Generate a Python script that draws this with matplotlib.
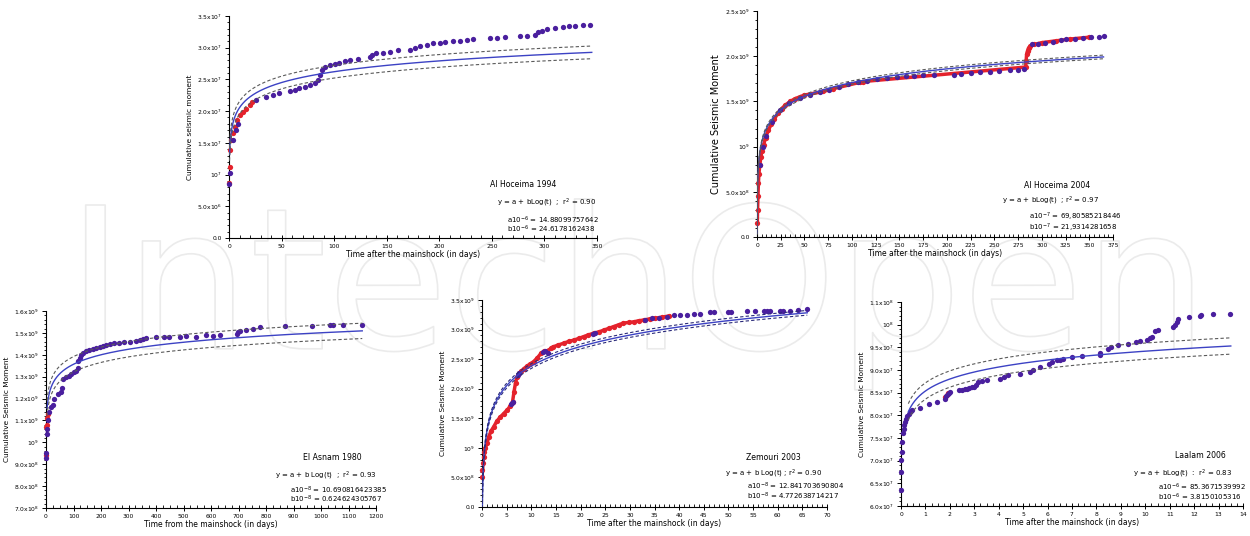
import numpy as np
import matplotlib.pyplot as plt
from matplotlib import patheffects
from matplotlib.ticker import MultipleLocator

# ---- Al Hoceima 1994 (y in 1e7) ----
hoc94_red_t = [0, 0.6, 1.3, 2.2, 3.8, 5.4, 7.6, 10, 13, 16.5, 19.7, 22]
hoc94_red_y = [0.86, 1.12, 1.38, 1.54, 1.65, 1.75, 1.86, 1.94, 1.99, 2.04, 2.09, 2.15]
hoc94_pur_t = [0.3, 0.6, 3.8, 7, 8.6, 26, 35.6, 42, 48, 58, 62.6, 67, 72, 77, 81.6, 85, 86.4, 88,
               91, 96, 100.7, 105, 110, 115, 123, 134, 135.6, 140, 146.7, 153, 161, 172, 177,
               181.6, 188, 194, 200.7, 205.5, 213, 220, 226, 232, 248, 254.7, 262.6, 277, 283,
               291, 294, 297.6, 302, 310, 318, 323, 329, 337, 343.6]
hoc94_pur_y = [0.85, 1.02, 1.54, 1.7, 1.8, 2.17, 2.23, 2.25, 2.28, 2.31, 2.33, 2.36, 2.38, 2.41,
               2.44, 2.49, 2.57, 2.65, 2.7, 2.73, 2.74, 2.76, 2.79, 2.81, 2.82, 2.85, 2.88, 2.91,
               2.92, 2.94, 2.96, 2.97, 2.99, 3.02, 3.04, 3.07, 3.08, 3.09, 3.1, 3.11, 3.12, 3.13,
               3.15, 3.16, 3.17, 3.18, 3.19, 3.2, 3.24, 3.27, 3.29, 3.31, 3.33, 3.34, 3.35, 3.36,
               3.36]

# ---- Al Hoceima 2004 (y in 1e9) ----
hoc04_red_t = [0.3, 0.6, 1, 1.5, 2, 3, 4, 5, 7, 9, 12, 15, 18, 22, 26, 30, 35, 40, 45, 50,
               70, 80, 108, 112, 283, 283.5, 284, 285, 286, 288, 292, 300, 315, 330, 350]
hoc04_red_y = [0.15, 0.3, 0.45, 0.6, 0.7, 0.8, 0.88, 0.95, 1.02, 1.1, 1.18, 1.25, 1.3, 1.37,
               1.42, 1.46, 1.5, 1.53, 1.55, 1.57, 1.61, 1.64, 1.71, 1.72, 1.88, 1.95, 2.02,
               2.06, 2.09, 2.11, 2.13, 2.15, 2.17, 2.19, 2.21]
hoc04_pur_t = [3, 6, 10, 16, 24, 34, 45, 56, 66, 76, 86, 96, 106, 116, 126, 137, 147, 157, 165,
               175, 186, 207, 215, 225, 235, 245, 255, 266, 275, 281, 290, 296, 303, 312, 320,
               326, 335, 343, 352, 360, 365]
hoc04_pur_y = [0.8, 1.0, 1.12, 1.27, 1.4, 1.48, 1.54, 1.57, 1.6, 1.63, 1.66, 1.69, 1.71, 1.73,
               1.75, 1.76, 1.77, 1.78, 1.78, 1.79, 1.79, 1.79, 1.8, 1.81, 1.82, 1.83, 1.84,
               1.85, 1.85, 1.86, 2.13, 2.14, 2.15, 2.16, 2.18, 2.19, 2.19, 2.2, 2.21, 2.21, 2.22]

# ---- El Asnam 1980 (y in 1e9) ----
asnam_red_t = [0, 1, 2, 4, 8]
asnam_red_y = [0.94, 1.07, 1.08, 1.11, 1.13]
asnam_pur_t = [0, 0.5, 2.4, 4, 6, 12, 18, 24, 30, 42, 55, 58, 61, 73, 85, 91, 103, 110, 115,
               118, 122, 128, 134, 146, 158, 170, 182, 195, 207, 219, 231, 249, 267, 285, 304,
               328, 340, 352, 365, 401, 430, 449, 486, 510, 547, 583, 608, 632, 693, 698, 705,
               729, 753, 777, 869, 966, 1033, 1045, 1081, 1148]
asnam_pur_y = [0.93, 0.95, 1.04, 1.06, 1.1, 1.14, 1.16, 1.17, 1.2, 1.22, 1.23, 1.25, 1.29, 1.3,
               1.305, 1.31, 1.32, 1.325, 1.34, 1.37, 1.385, 1.4, 1.41, 1.415, 1.42, 1.425, 1.43,
               1.435, 1.44, 1.445, 1.45, 1.452, 1.455, 1.457, 1.46, 1.465, 1.468, 1.47, 1.475,
               1.48, 1.48, 1.483, 1.48, 1.485, 1.48, 1.49, 1.488, 1.49, 1.495, 1.505, 1.51,
               1.515, 1.52, 1.525, 1.53, 1.533, 1.535, 1.535, 1.535, 1.535]

# ---- Zemmouri 2003 (y in 1e9) ----
zem_red_t = [0, 0.1, 0.2, 0.35, 0.5, 0.7, 1, 1.35, 1.8, 2.4, 3, 3.7, 4.4, 5.1, 5.7, 6.2, 6.5,
             6.8, 7.1, 7.5, 8, 8.5, 9.1, 9.8, 10.5, 11.2, 12, 12.6, 13.2, 14, 14.5, 15.5, 16.6,
             17.6, 18.6, 19.6, 20.6, 21.6, 22.7, 23.7, 24.7, 25.7, 26.7, 27.7, 28.7, 29.8,
             30.8, 31.8, 32.8, 34, 35, 36.5, 38]
zem_red_y = [0.5, 0.62, 0.75, 0.85, 0.93, 1.0, 1.08, 1.18, 1.28, 1.36, 1.45, 1.52, 1.58, 1.64,
             1.7, 1.78, 1.95, 2.1, 2.2, 2.26, 2.3, 2.34, 2.38, 2.42, 2.46, 2.52, 2.6, 2.63,
             2.64, 2.68, 2.71, 2.74, 2.77, 2.8, 2.82, 2.85, 2.88, 2.91, 2.94, 2.96, 2.99, 3.02,
             3.05, 3.08, 3.11, 3.12, 3.13, 3.15, 3.16, 3.18, 3.19, 3.21, 3.23]
zem_pur_t = [5.9, 6.1, 6.3, 7.3, 7.6, 12.3, 12.8, 13.3, 22.5, 23, 33, 34.5, 36, 37.5, 39, 40.2,
             41.6, 43, 44.3, 46.3, 47, 50, 50.6, 53.8, 55.4, 57.2, 57.8, 58.5, 60.5, 61, 62.5,
             64.2, 65.9]
zem_pur_y = [1.74, 1.76, 1.78, 2.24, 2.27, 2.62, 2.64, 2.6, 2.92, 2.95, 3.17, 3.19, 3.2, 3.22,
             3.24, 3.25, 3.25, 3.26, 3.26, 3.29, 3.3, 3.3, 3.3, 3.31, 3.31, 3.31, 3.32, 3.32,
             3.32, 3.32, 3.32, 3.33, 3.34]

# ---- Laalam 2006 (y in 1e7) ----
laa_red_t = [1.82, 1.88, 1.93]
laa_red_y = [8.4, 8.45, 8.5]
laa_pur_t = [0, 0.01, 0.02, 0.03, 0.05, 0.08, 0.11, 0.14, 0.18, 0.22, 0.26, 0.31, 0.36, 0.41,
             0.45, 0.79, 1.13, 1.47, 1.81, 1.86, 1.91, 1.95, 2.0, 2.36, 2.5, 2.6, 2.7, 2.8, 2.9,
             2.97, 3.05, 3.17, 3.3, 3.51, 4.06, 4.2, 4.4, 4.88, 5.29, 5.4, 5.69, 6.04, 6.2,
             6.38, 6.5, 6.65, 6.99, 7.4, 8.15, 8.15, 8.49, 8.6, 8.9, 9.3, 9.64, 9.8, 10.05,
             10.2, 10.26, 10.4, 10.53, 11.14, 11.2, 11.3, 11.35, 11.8, 12.22, 12.3, 12.77, 13.45]
laa_pur_y = [6.35, 6.76, 7.01, 7.2, 7.42, 7.6, 7.7, 7.78, 7.85, 7.93, 7.98, 8.04, 8.07, 8.1,
             8.11, 8.17, 8.24, 8.3, 8.37, 8.42, 8.47, 8.5, 8.52, 8.55, 8.56, 8.57, 8.58, 8.6,
             8.62, 8.63, 8.68, 8.74, 8.76, 8.79, 8.81, 8.85, 8.89, 8.92, 8.96, 9.0, 9.07, 9.14,
             9.18, 9.22, 9.23, 9.25, 9.29, 9.3, 9.32, 9.38, 9.47, 9.5, 9.55, 9.58, 9.62, 9.63,
             9.66, 9.7, 9.73, 9.85, 9.88, 9.95, 9.99, 10.05, 10.13, 10.17, 10.2, 10.21, 10.23,
             10.24]

# fit coefficients y = a + b ln(t), in the same units as the y data
fit_a = [1.488099757642, 0.698058521845, 1.0690816423385, 1.2841703690804, 8.53671539992]
fit_b = [0.246178162438, 0.219314281658, 0.0624624305767, 0.4772638714217, 0.38150105316]
fit_band = [0.1, 0.02, 0.035, 0.04, 0.18]
fit_tmin = [0.5, 0.05, 4, 0.07, 0.3]
fit_tmax = [345, 365, 1150, 66, 13.5]

titles = ['Al Hoceima 1994', 'Al Hoceima 2004', 'El Asnam 1980', 'Zemouri 2003', 'Laalam 2006']
equations = ['y = a + bLog(t)  ;  r$^2$ = 0.90', 'y = a + bLog(t)  ; r$^2$ = 0.97',
             'y = a + b Log(t)  ;  r$^2$ = 0.93', 'y = a + b Log(t) ; r$^2$ = 0.90',
             'y = a + bLog(t)  :  r$^2$ = 0.83']
a_texts = ['a10$^{-6}$ = 14.88099757642', 'a10$^{-7}$ = 69,80585218446',
           'a10$^{-8}$ = 10.690816423385', 'a10$^{-8}$ = 12.841703690804',
           'a10$^{-6}$ = 85.3671539992']
b_texts = ['b10$^{-6}$ = 24.6178162438', 'b10$^{-7}$ = 21,9314281658',
           'b10$^{-8}$ = 0.624624305767', 'b10$^{-8}$ = 4.772638714217',
           'b10$^{-6}$ = 3.8150105316']
xlabels = ['Time after the mainshock (in days)', 'Time after the mainshock (in days)',
           'Time from the mainshock (in days)', 'Time after the mainshock (in days)',
           'Time after the mainshock (in days)']
ylabels = ['Cumulative seismic moment', 'Cumulative Seismic Moment', 'Cumulative Seismic Moment',
           'Cumulative Seismic Moment', 'Cumulative Seismic Moment']

yt1 = ['0.0', '5.0x10$^6$', '10$^7$', '1.5x10$^7$', '2.0x10$^7$', '2.5x10$^7$', '3.0x10$^7$', '3.5x10$^7$']
yt2 = ['0.0', '5.0x10$^8$', '10$^9$', '1.5x10$^9$', '2.0x10$^9$', '2.5x10$^9$']
yt3 = ['7.0x10$^8$', '8.0x10$^8$', '9.0x10$^8$', '10$^9$', '1.1x10$^9$', '1.2x10$^9$',
       '1.3x10$^9$', '1.4x10$^9$', '1.5x10$^9$', '1.6x10$^9$']
yt4 = ['0.0', '5.0x10$^8$', '10$^9$', '1.5x10$^9$', '2.0x10$^9$', '2.5x10$^9$', '3.0x10$^9$', '3.5x10$^9$']
yt5 = ['6.0x10$^7$', '6.5x10$^7$', '7.0x10$^7$', '7.5x10$^7$', '8.0x10$^7$', '8.5x10$^7$',
       '9.0x10$^7$', '9.5x10$^7$', '10$^8$', '1.1x10$^8$']

RED = '#e4222c'
PUR = '#4a1f9e'
BLUE = '#3c42c4'
DASH = '#5a5a5a'

fig = plt.figure(figsize=(12.5, 5.36), dpi=100)
W, H = 1250, 536


def make_ax(left, bottom, width, height):
    return fig.add_axes([left / W, 1 - bottom / H, width / W, height / H])


# pixel boxes: left, bottom, width, height
boxes = [(229, 238, 368, 222), (757, 237, 356, 226), (46, 508, 330, 197),
         (482, 507, 345, 207), (901, 506, 342, 204)]
xlims = [(0, 350), (0, 375), (0, 1200), (0, 70), (0, 14)]
ylims = [(0, 3.5), (0, 2.5), (0.7, 1.6), (0, 3.5), (6.0, 10.5)]
xmaj = [50, 25, 100, 5, 1]
xmin_ = [10, 5, 25, 1, 0.25]
ystep = [0.5, 0.5, 0.1, 0.5, 0.5]
ymin_ = [0.1, 0.1, 0.02, 0.1, 0.1]
ytl = [yt1, yt2, yt3, yt4, yt5]
# title x, equation right edge, coefficient left edge (axes fraction)
txt_pos = [(0.80, 0.997, 0.755), (0.843, 0.96, 0.764), (0.867, 1.0, 0.74),
           (0.846, 0.985, 0.768), (0.874, 0.968, 0.75)]
txt_y = [(0.24, 0.158, 0.08, 0.04), (0.23, 0.16, 0.088, 0.04), (0.254, 0.162, 0.09, 0.046),
         (0.237, 0.16, 0.10, 0.053), (0.25, 0.16, 0.093, 0.044)]

red_t = [hoc94_red_t, hoc04_red_t, asnam_red_t, zem_red_t, laa_red_t]
red_y = [hoc94_red_y, hoc04_red_y, asnam_red_y, zem_red_y, laa_red_y]
pur_t = [hoc94_pur_t, hoc04_pur_t, asnam_pur_t, zem_pur_t, laa_pur_t]
pur_y = [hoc94_pur_y, hoc04_pur_y, asnam_pur_y, zem_pur_y, laa_pur_y]

for i in range(5):
    ax = make_ax(*boxes[i])
    ax.patch.set_alpha(0)
    ax.set_xlim(*xlims[i])
    ax.set_ylim(*ylims[i])
    ax.spines['top'].set_visible(False)
    ax.spines['right'].set_visible(False)
    for s in ['left', 'bottom']:
        ax.spines[s].set_linewidth(0.8)

    # data points
    ax.plot(red_t[i], red_y[i], 'o', color=RED, ms=3.8, mec='none', zorder=3, clip_on=False)
    ax.plot(pur_t[i], pur_y[i], 'o', color=PUR, ms=3.8, mec='none', zorder=4, clip_on=False)
    if i == 1 or i == 3:
        # dense records drawn as thick traces
        ax.plot(red_t[i], red_y[i], '-', color=RED, lw=2.5, zorder=2)

    # fit and confidence bands
    tt = np.geomspace(fit_tmin[i], fit_tmax[i], 300)
    yy = fit_a[i] + fit_b[i] * np.log(tt)
    ax.plot(tt, yy, color=BLUE, lw=1.0, zorder=5)
    dcol = '#2a2a7a' if i == 3 else DASH
    ax.plot(tt, yy + fit_band[i], color=dcol, lw=0.8, ls=(0, (3, 2)), zorder=5)
    ax.plot(tt, yy - fit_band[i], color=dcol, lw=0.8, ls=(0, (3, 2)), zorder=5)

    # ticks
    ax.xaxis.set_major_locator(MultipleLocator(xmaj[i]))
    ax.xaxis.set_minor_locator(MultipleLocator(xmin_[i]))
    ax.set_yticks(ylims[i][0] + np.arange(len(ytl[i])) * ystep[i])
    ax.set_yticklabels(ytl[i])
    ax.yaxis.set_minor_locator(MultipleLocator(ymin_[i]))
    ax.tick_params(axis='y', which='major', direction='out', length=3, width=0.7,
                   labelsize=4.3, pad=2)
    ax.tick_params(axis='y', which='minor', direction='out', length=1.8, width=0.6)
    ax.tick_params(axis='x', which='major', direction='inout', length=4, width=0.7,
                   labelsize=4.3, pad=2)
    ax.tick_params(axis='x', which='minor', direction='in', length=2, width=0.6)

    ax.set_xlabel(xlabels[i], fontsize=5.5, labelpad=1)
    ax.set_ylabel(ylabels[i], fontsize=7 if i == 1 else 5.3, labelpad=3)

    # annotation
    tx, ex, cx = txt_pos[i]
    ty, ey, ay, by = txt_y[i]
    ax.text(tx, ty, titles[i], transform=ax.transAxes, fontsize=5.6, ha='center', va='center')
    ax.text(ex, ey, equations[i], transform=ax.transAxes, fontsize=5.0, ha='right', va='center')
    ax.text(cx, ay, a_texts[i], transform=ax.transAxes, fontsize=5.0, ha='left', va='center')
    ax.text(cx, by, b_texts[i], transform=ax.transAxes, fontsize=5.0, ha='left', va='center')

# faint publisher watermark behind the panels
wm = fig.text(0.51, 0.45, 'IntechOpen', fontsize=142, ha='center', va='center',
              color='none', zorder=-5)
wm.set_path_effects([patheffects.Stroke(linewidth=1.2, foreground='#ebebeb')])

fig.savefig('out.png', dpi=100)
